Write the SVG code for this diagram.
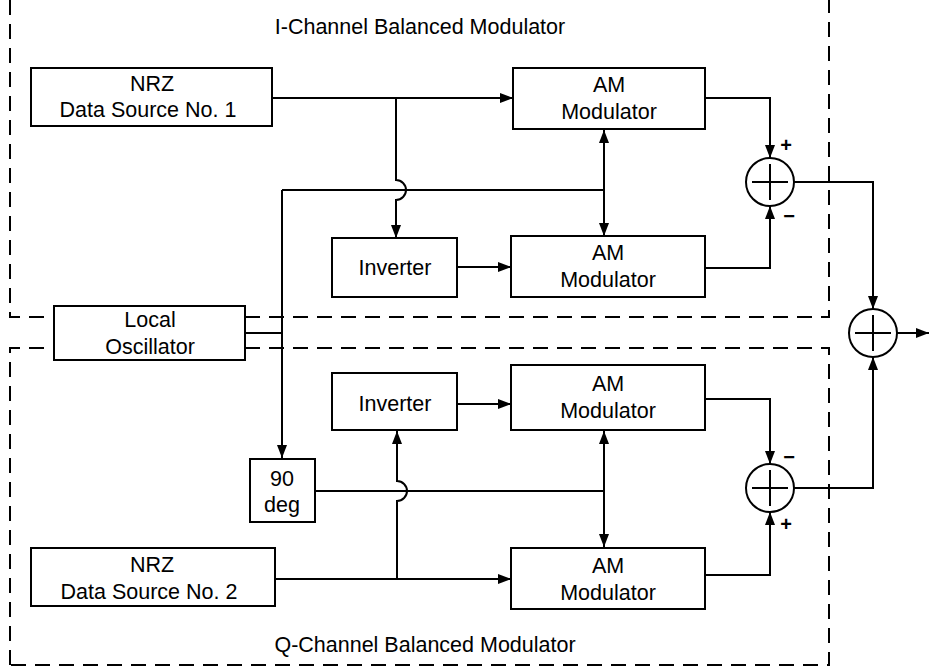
<svg xmlns="http://www.w3.org/2000/svg" width="929" height="671" viewBox="0 0 929 671">
<defs>
<marker id="ah" markerWidth="13" markerHeight="10" refX="13" refY="5" orient="auto-start-reverse" markerUnits="userSpaceOnUse">
<path d="M0,0 L13,5 L0,10 Z" fill="#000"/>
</marker>
<style>
.box{fill:#fff;stroke:#000;stroke-width:2}
.dash{fill:none;stroke:#000;stroke-width:2;stroke-dasharray:15 9}
.ln{fill:none;stroke:#000;stroke-width:2}
.arr{fill:none;stroke:#000;stroke-width:2;marker-end:url(#ah)}
.arr2{fill:none;stroke:#000;stroke-width:2;marker-end:url(#ah);marker-start:url(#ah)}
text{font-family:"Liberation Sans",Arial,sans-serif;font-size:21.5px;fill:#000;text-anchor:middle}
.sgn{font-size:20px;font-weight:bold}
</style>
</defs>
<g id="frames">
<path class="dash" d="M10,0 V317 H829 V0"/>
<path class="dash" d="M10,665 V348 H829 V665 Z"/>
<text x="420" y="34">I-Channel Balanced Modulator</text>
<text x="425" y="652">Q-Channel Balanced Modulator</text>
</g>
<g id="connectors">
<path class="arr" d="M272,98 H513"/>
<path class="arr" d="M396,98 V180 A10,10 0 0 1 396,200 V238"/>
<path class="ln" d="M245,333 H282"/>
<path class="arr" d="M282,190 V458"/>
<path class="ln" d="M282,190 H604"/>
<path class="arr2" d="M604,130 V236"/>
<path class="arr" d="M457,267 H511"/>
<path class="arr" d="M705,98 H770 V158"/>
<path class="arr" d="M705,268 H770 V206"/>
<path class="arr" d="M794,182 H873 V309"/>
<path class="arr" d="M275,579 H511"/>
<path class="arr" d="M397,579 V501 A10,10 0 0 0 397,481 V431"/>
<path class="ln" d="M315,491 H604"/>
<path class="arr2" d="M604,431 V547"/>
<path class="arr" d="M457,404 H511"/>
<path class="arr" d="M705,399 H770 V464"/>
<path class="arr" d="M705,575 H770 V512"/>
<path class="arr" d="M794,488 H873 V357"/>
<path class="arr" d="M897,333 H929"/>
</g>
<g id="nrz1"><rect class="box" x="31" y="68" width="241" height="58"/><text x="152" y="91">NRZ</text><text x="148" y="117">Data Source No. 1</text></g>
<g id="am1"><rect class="box" x="513" y="68" width="192" height="61"/><text x="609" y="92">AM</text><text x="609" y="119">Modulator</text></g>
<g id="inv1"><rect class="box" x="332" y="238" width="125" height="59"/><text x="395" y="275">Inverter</text></g>
<g id="am2"><rect class="box" x="511" y="236" width="194" height="61"/><text x="608" y="260">AM</text><text x="608" y="287">Modulator</text></g>
<g id="sum1"><circle class="box" cx="770" cy="182" r="24"/><path class="ln" d="M752,182 H788 M770,164 V200"/><text class="sgn" x="786" y="152">+</text><text class="sgn" x="789" y="223">−</text></g>
<g id="lo"><rect class="box" x="54" y="306" width="191" height="54"/><text x="150" y="327">Local</text><text x="150" y="354">Oscillator</text></g>
<g id="sumout"><circle class="box" cx="873" cy="333" r="24"/><path class="ln" d="M855,333 H891 M873,315 V351"/></g>
<g id="inv2"><rect class="box" x="332" y="373" width="125" height="57"/><text x="395" y="411">Inverter</text></g>
<g id="am3"><rect class="box" x="511" y="365" width="194" height="65"/><text x="608" y="391">AM</text><text x="608" y="418">Modulator</text></g>
<g id="deg90"><rect class="box" x="250" y="459" width="65" height="63"/><text x="282" y="486">90</text><text x="282" y="512">deg</text></g>
<g id="sum2"><circle class="box" cx="770" cy="488" r="24"/><path class="ln" d="M752,488 H788 M770,470 V506"/><text class="sgn" x="789" y="464">−</text><text class="sgn" x="786" y="531">+</text></g>
<g id="nrz2"><rect class="box" x="31" y="548" width="244" height="58"/><text x="152" y="572">NRZ</text><text x="149" y="599">Data Source No. 2</text></g>
<g id="am4"><rect class="box" x="511" y="548" width="194" height="61"/><text x="608" y="573">AM</text><text x="608" y="600">Modulator</text></g>
</svg>
